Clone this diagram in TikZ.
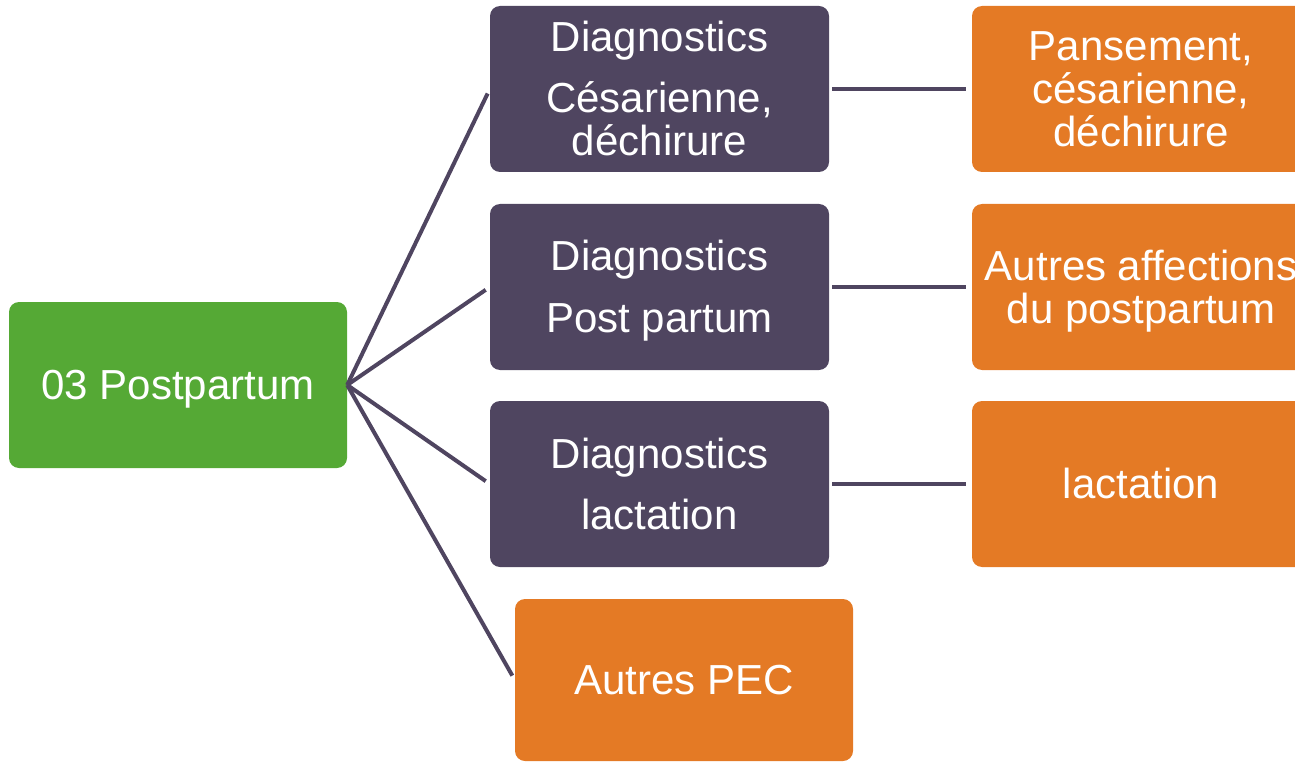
\documentclass[tikz,border=0pt]{standalone}
\usepackage{fontspec}
\setmainfont{Liberation Sans}
\definecolor{leafgreen}{HTML}{55A935}
\definecolor{plum}{HTML}{4F4560}
\definecolor{amber}{HTML}{E47A25}
% invisible struts giving each text block the full ascent and descent of the font
\newcommand\ascstrut{\rule{0pt}{0.905em}}
\newcommand\descstrut{\rule[-0.212em]{0pt}{0.212em}}
\begin{document}
\begin{tikzpicture}[x=1pt,y=-1pt,
  box/.style={rounded corners=10pt, minimum width=338pt, minimum height=166pt,
    text=white, align=center, inner sep=0pt,
    font=\fontsize{42}{43}\selectfont},
  rootbox/.style={box, fill=leafgreen},
  diagbox/.style={box, fill=plum},
  carebox/.style={box, fill=amber},
  link/.style={draw=plum, line width=4pt}
]
\useasboundingbox (0,0) rectangle (1295,762);
\clip (0,0) rectangle (1295,762);

% root and first level
\node[rootbox] (root) at (178,385) {\ascstrut 03 Postpartum\descstrut};
\node[diagbox, minimum width=339pt] (d1) at (659.5,89) {\ascstrut Diagnostics\\[18pt]Césarienne,\\déchirure\descstrut};
\node[diagbox, minimum width=339pt] (d2) at (659.5,287) {\ascstrut Diagnostics\\[19pt]Post partum\descstrut};
\node[diagbox, minimum width=339pt] (d3) at (659.5,484) {\ascstrut Diagnostics\\[18pt]lactation\descstrut};
\node[carebox, minimum height=162pt] (pec) at (684,680) {\ascstrut Autres PEC\descstrut};

% second level
\node[carebox] (c1) at (1141,89) {\ascstrut Pansement,\\césarienne,\\déchirure\descstrut};
\node[carebox] (c2) at (1141,287) {\ascstrut Autres affections\\du postpartum\descstrut};
\node[carebox] (c3) at (1141,484) {\ascstrut lactation\descstrut};

% connectors
\foreach \t in {d1,d2,d3} {
  \draw[link, shorten >=5pt] (root.east) -- (\t.west);
}
\draw[link, shorten >=5pt] (root.east) -- (pec.west);
\draw[link, shorten <=3pt, shorten >=6pt] (d1.east) -- (c1.west);
\draw[link, shorten <=3pt, shorten >=6pt] (d2.east) -- (c2.west);
\draw[link, shorten <=3pt, shorten >=6pt] (d3.east) -- (c3.west);
\end{tikzpicture}
\end{document}
